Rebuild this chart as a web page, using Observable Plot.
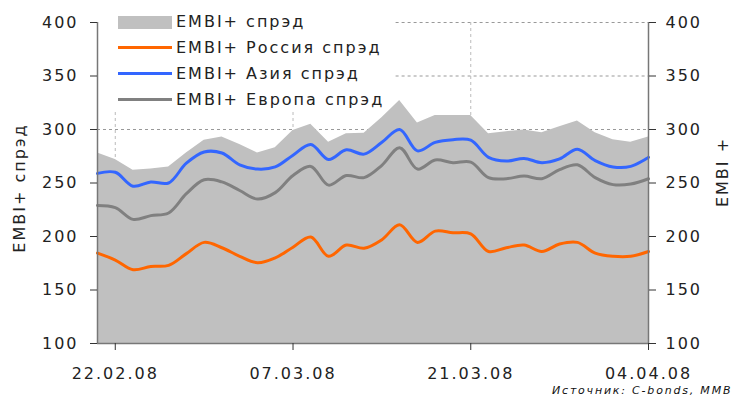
<!DOCTYPE html>
<html><head><meta charset="utf-8">
<script src="https://cdn.jsdelivr.net/npm/d3@7"></script>
<script src="https://cdn.jsdelivr.net/npm/@observablehq/plot@0.6"></script>
<style>
body{margin:0;background:#fff;font-family:"DejaVu Sans",Verdana,sans-serif;}
#wrap{position:relative;width:732px;height:400px;overflow:hidden;background:#fff;}
#wrap svg{position:absolute;left:0;top:0;}
.ov{position:absolute;white-space:nowrap;color:#222;font-size:16px;letter-spacing:2px;}
.rot{transform:translate(-50%,-50%) rotate(-90deg);line-height:18px;}
#legend{position:absolute;left:98px;top:0;width:298px;height:111px;}
.row{position:absolute;left:20px;height:26px;line-height:26px;display:flex;align-items:center;}
.sw{width:54px;margin-right:4px;}
#cap{position:absolute;left:552px;top:384px;font-size:11px;letter-spacing:1.8px;font-style:italic;line-height:14px;color:#111;white-space:nowrap;}
</style></head><body><div id="wrap"></div><script>
const dates = ["21.02.08","22.02.08","25.02.08","26.02.08","27.02.08","28.02.08","29.02.08",
  "03.03.08","04.03.08","05.03.08","06.03.08","07.03.08",
  "10.03.08","11.03.08","12.03.08","13.03.08","14.03.08",
  "17.03.08","18.03.08","19.03.08","20.03.08","21.03.08",
  "24.03.08","25.03.08","26.03.08","27.03.08","28.03.08",
  "31.03.08","01.04.08","02.04.08","03.04.08","04.04.08"];
const embi   = [278,272,262,263,265,278,290,293,286,278,283,299,305,288,296,296.5,311,327,306,313,313,313,296,298,299.5,297,302.5,308,297,290.5,288,293];
const russia = [184.5,178,169,172,173,184,194.5,189.5,181.5,175.5,180,190,199.5,181.5,192,189,197,211,194.5,205,203.5,202.5,186,189.5,192,186,193,194.5,184.5,181.5,181.5,186];
const asia   = [259,260,247,251,250,268.5,279,278,267,263,265,276,286,272,281,277,288,300,280,288,290.5,290,274,270.5,273,269,272.5,281.5,271,265,265.5,274];
const europe = [229,227,216,219.5,222,240,253,251,243,235,241,257,265.5,248,257,255,266.5,283,263,271.5,269,269.5,255,254,256.5,254,262.5,267,255,248.5,249,254];
const yTicks = [100,150,200,250,300,350,400];
const xTickIdx = [1,11,21,31];
const legendLabels = ["EMBI+ спрэд","EMBI+ Россия спрэд","EMBI+ Азия спрэд","EMBI+ Европа спрэд"];
const colors = {embi:"#c0c0c0", russia:"#ff6600", asia:"#3366ff", europe:"#808080"};
const leftLabel = "EMBI+ спрэд";
const rightLabel = "EMBI +";
const source = "Источник: C-bonds, MMBI";

const table = dates.map((d,i)=>({i, date:d, embi:embi[i], russia:russia[i], asia:asia[i], europe:europe[i]}));

// gridlines are hidden where the legend sits (as in the original)
const legendRight = 16.8, legendBottom = 316.5;
const gridStyle = {stroke:"#999", strokeOpacity:1, strokeDasharray:"3,3"};

const chart = Plot.plot({
  width:732, height:400,
  marginLeft:97, marginRight:84, marginTop:22, marginBottom:57,
  style:{fontFamily:'"DejaVu Sans", Verdana, sans-serif', fontSize:"16px", color:"#222", letterSpacing:"2px", background:"transparent", overflow:"visible"},
  x:{domain:[0,31], axis:null},
  y:{domain:[100,400], axis:null},
  marks:[
    Plot.gridY([300],gridStyle),
    Plot.gridY([350,400],{...gridStyle, x1:legendRight, x2:31}),
    Plot.gridX([1,11],{...gridStyle, stroke:"#bbb", y1:100, y2:legendBottom}),
    Plot.gridX([21],{...gridStyle, stroke:"#bbb"}),
    Plot.areaY(table,{x:"i", y1:100, y2:"embi", fill:colors.embi}),
    Plot.lineY(table,{x:"i", y:"europe", stroke:colors.europe, strokeWidth:3, curve:"catmull-rom"}),
    Plot.lineY(table,{x:"i", y:"asia", stroke:colors.asia, strokeWidth:3, curve:"catmull-rom"}),
    Plot.lineY(table,{x:"i", y:"russia", stroke:colors.russia, strokeWidth:3, curve:"catmull-rom"}),
    Plot.ruleX([0,31],{stroke:"#777", strokeWidth:1.5}),
    Plot.ruleY([100],{stroke:"#777", strokeWidth:1.5}),
    Plot.axisY(yTicks,{anchor:"left", tickSize:7, tickPadding:12, label:null, stroke:"#333"}),
    Plot.axisY(yTicks,{anchor:"right", tickSize:7, tickPadding:10, label:null, stroke:"#333"}),
    Plot.axisX(xTickIdx,{anchor:"bottom", tickSize:7, tickPadding:17, tickFormat:i=>dates[i], label:null, stroke:"#333"})
  ]
});
const wrap = document.getElementById("wrap");
wrap.appendChild(chart);

// legend overlay
const lg = document.createElement("div");
lg.id = "legend";
const keys = ["embi","russia","asia","europe"];
const tops = [9,35,61,87];
keys.forEach((k,j)=>{
  const r = document.createElement("div");
  r.className = "row ov";
  r.style.top = tops[j]+"px";
  const sw = document.createElement("div");
  sw.className = "sw";
  if (k==="embi") { sw.style.height="13px"; sw.style.background=colors[k]; }
  else { sw.style.height="3px"; sw.style.background=colors[k]; sw.style.marginTop="-2px"; }
  const t = document.createElement("span");
  t.textContent = legendLabels[j];
  r.appendChild(sw); r.appendChild(t);
  lg.appendChild(r);
});
wrap.appendChild(lg);

const ll = document.createElement("div");
ll.className = "ov rot"; ll.style.left="20px"; ll.style.top="188px"; ll.textContent = leftLabel;
wrap.appendChild(ll);
const rl = document.createElement("div");
rl.className = "ov rot"; rl.style.left="723px"; rl.style.top="172px"; rl.textContent = rightLabel;
wrap.appendChild(rl);
const cap = document.createElement("div");
cap.id="cap"; cap.textContent = source;
wrap.appendChild(cap);
</script></body></html>
